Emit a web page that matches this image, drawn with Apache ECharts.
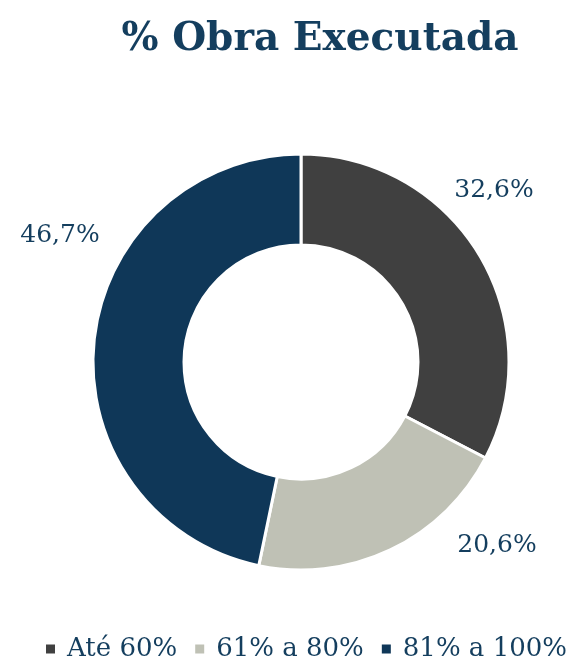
<!DOCTYPE html>
<html>
<head>
<meta charset="utf-8">
<script src="https://cdn.jsdelivr.net/npm/echarts@6/dist/echarts.min.js"></script>
<style>
  html, body { margin: 0; padding: 0; background: #fff; }
  #chart { width: 577px; height: 662px; }
</style>
</head>
<body>
<div id="chart"></div>
<script>
// categorias e valores (%)
const categories = ["Até 60%", "61% a 80%", "81% a 100%"];
const values = [32.6, 20.6, 46.7];
const colors = ["#404040", "#BFC1B5", "#0F3758"];

// posição dos rótulos (estilo Excel, fora da fatia)
const labelPos = [[494, 190], [497, 545], [60, 235]];

const navy = "#143E5E";
const serif = "DejaVu Serif";

const chart = echarts.init(document.getElementById("chart"));

chart.setOption({
  animation: false,
  color: colors,
  title: {
    text: "% Obra Executada",
    left: 315,
    top: 15,
    textAlign: "center",
    textStyle: {
      fontFamily: serif,
      fontSize: 39,
      fontWeight: "bold",
      color: navy,
    },
  },
  legend: {
    top: 636,
    left: 44,
    width: 540,
    padding: 0,
    icon: "rect",
    itemWidth: 11,
    itemHeight: 11,
    itemGap: 16,
    textStyle: {
      fontFamily: serif,
      fontSize: 26,
      color: navy,
      padding: [0, 0, 0, 6],
    },
    data: categories,
  },
  series: [
    {
      type: "pie",
      center: [301, 362],
      radius: [117, 208],
      startAngle: 90,
      clockwise: true,
      itemStyle: {
        borderColor: "#fff",
        borderWidth: 3,
      },
      label: {
        show: true,
        position: "outside",
        overflow: "none",
        width: 120,
        formatter: (p) => p.value.toFixed(1).replace(".", ",") + "%",
        fontFamily: serif,
        fontSize: 25,
        color: navy,
      },
      labelLine: { show: false },
      labelLayout: (params) => ({
        x: labelPos[params.dataIndex][0],
        y: labelPos[params.dataIndex][1],
        align: "center",
        verticalAlign: "middle",
      }),
      emphasis: { disabled: true },
      data: categories.map((name, i) => ({ name, value: values[i] })),
    },
  ],
});
</script>
</body>
</html>
